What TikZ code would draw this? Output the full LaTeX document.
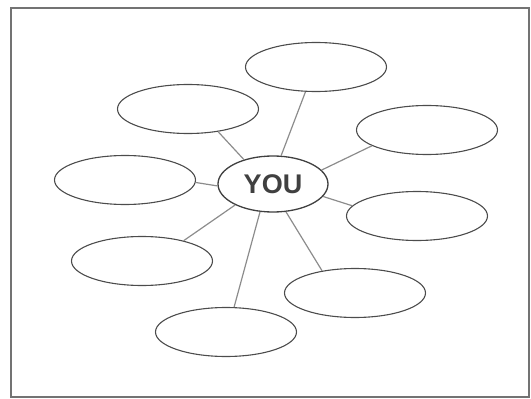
\documentclass[tikz,border=0pt]{standalone}
\usepackage{fontspec}
\setsansfont{Liberation Sans}
\usetikzlibrary{shapes.geometric}

\begin{document}
\begin{tikzpicture}[x=1pt, y=-1pt,
	bubble/.style={ellipse, draw=black!70, line width=1.1pt, minimum width=141pt, minimum height=49pt, inner sep=0pt},
	hub/.style={ellipse, draw=black!75, line width=1.3pt, minimum width=110pt, minimum height=56pt, inner sep=0pt, font=\sffamily\bfseries\fontsize{27}{27}\selectfont, text=black!75},
	spoke/.style={draw=black!45, line width=1.2pt}]
	\useasboundingbox (0,0) rectangle (531,399);
	\draw[black!55, line width=1.8pt] (11,8) rectangle (529,397);
	% centre and the eight bubbles round it
	\node[hub] (you) at (273,184) {YOU};
	\node[bubble] (top) at (316,67) {};
	\node[bubble] (upleft) at (188,109) {};
	\node[bubble] (upright) at (427,130) {};
	\node[bubble] (left) at (125,180) {};
	\node[bubble] (lowright) at (417,216) {};
	\node[bubble] (lowleft) at (142,261) {};
	\node[bubble] (botright) at (355,293) {};
	\node[bubble] (bottom) at (226,332) {};
	% spokes
	\foreach \a/\n/\b in {74/top/247, 140/upleft/323, 16/upright/196, 182/left/358,
		346/lowright/171, 209/lowleft/26, 245/bottom/72, 295/botright/146}
		\draw[spoke] (you.\a) -- (\n.\b);
\end{tikzpicture}
\end{document}
